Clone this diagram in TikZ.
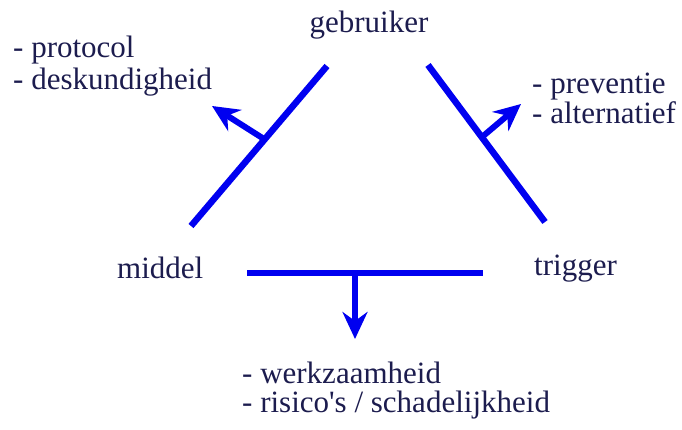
\documentclass[tikz,border=0pt]{standalone}
\usepackage{fontspec}
\setmainfont{Liberation Serif}
\usetikzlibrary{arrows.meta}
\definecolor{txt}{RGB}{28,28,78}
\definecolor{lineblue}{RGB}{0,0,240}
\begin{document}
\begin{tikzpicture}[x=1pt,y=-1pt,
  lbl/.style={inner sep=0pt, anchor=base west, text=txt, font=\fontsize{31}{31}\selectfont},
  clbl/.style={lbl, anchor=base},
  bar/.style={draw=lineblue, line width=6.5pt},
  outarrow/.style={draw=lineblue, line width=6pt, -{Stealth[length=27pt,width=25pt,inset=9pt]}}]
\useasboundingbox (0,0) rectangle (682,430);
% labels
\node[clbl] (gebruiker) at (369,33) {gebruiker};
\node[lbl] (middel) at (117,278) {middel};
\node[lbl] (trigger) at (534,275) {trigger};
\node[lbl] (l1) at (13,58) {- protocol};
\node[lbl] (l2) at (13,90) {- deskundigheid};
\node[lbl] (r1) at (532,94) {- preventie};
\node[lbl] (r2) at (532,124) {- alternatief};
\node[lbl] (b1) at (242,383) {- werkzaamheid};
\node[lbl] (b2) at (242,412) {- risico\textquotesingle s / schadelijkheid};
% bars
\coordinate (la) at (327,66);
\coordinate (lb) at (191,226);
\coordinate (ra) at (428,65);
\coordinate (rb) at (545,222);
\coordinate (ba) at (247,273);
\coordinate (bb) at (483,273);
\draw[bar] (la) -- (lb);
\draw[bar] (ra) -- (rb);
\draw[bar] (ba) -- (bb);
% arrows
\coordinate (lj) at (264,139);
\coordinate (lt) at (212,106);
\coordinate (rj) at (482,137);
\coordinate (rt) at (521,104);
\coordinate (bj) at (355,273);
\coordinate (bt) at (355,339);
\draw[outarrow] (lj) -- (lt);
\draw[outarrow] (rj) -- (rt);
\draw[outarrow] (bj) -- (bt);
\end{tikzpicture}
\end{document}
